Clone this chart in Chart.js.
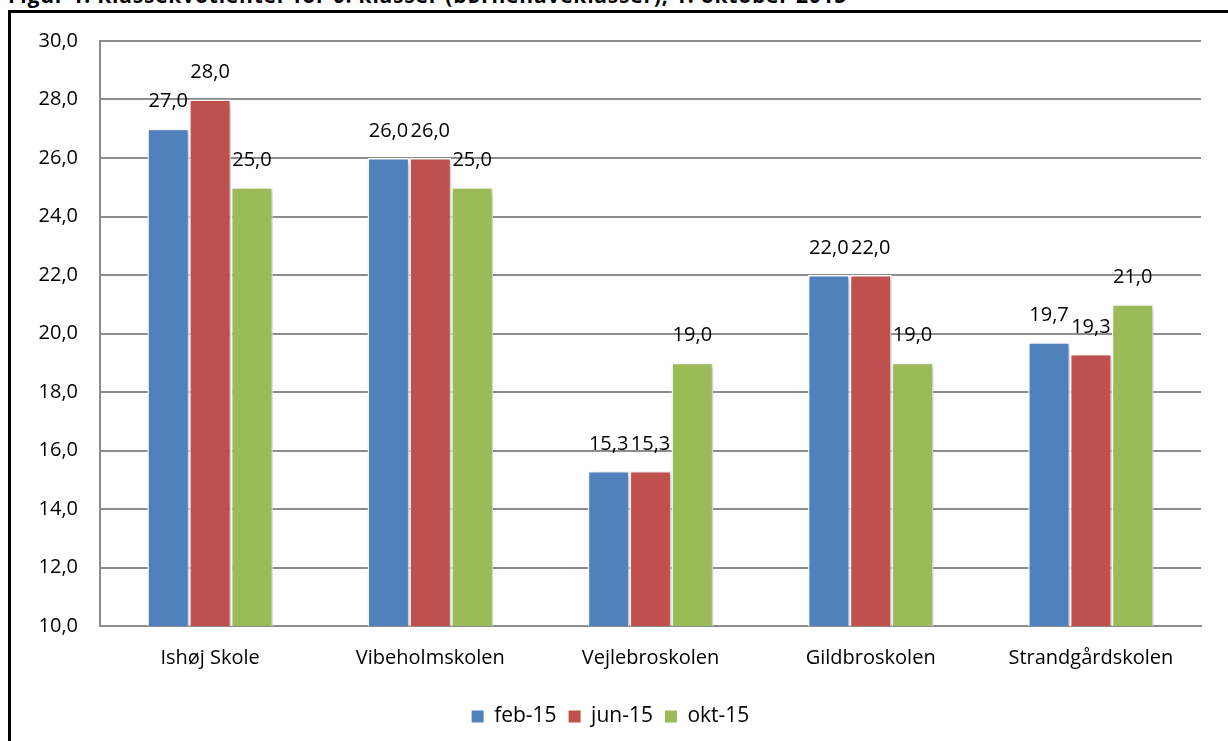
<!DOCTYPE html>
<html lang="da">
<head>
<meta charset="utf-8">
<title>Klassekvotienter</title>
<script src="https://cdn.jsdelivr.net/npm/chart.js@4/dist/chart.umd.min.js"></script>
<style>
  html, body { margin: 0; padding: 0; background: #fff; overflow: hidden; }
  body { width: 1228px; height: 741px; position: relative; }
  #title {
    position: absolute; left: 8px; top: -19px; margin: 0; letter-spacing: 0.8px;
    font: bold 21px "Open Sans", Lato, sans-serif; color: #000; white-space: nowrap;
  }
  #frame {
    position: absolute; left: 8px; top: 10px; width: 1240px; height: 760px;
    border: 3px solid #000; box-sizing: border-box;
  }
  #wrap { position: absolute; left: 0; top: 0; width: 1228px; height: 741px; }
</style>
</head>
<body>
<div id="title">Figur 1: Klassekvotienter for 0. klasser (børnehaveklasser), 1. oktober 2015</div>
<div id="frame"></div>
<div id="wrap"><canvas id="chart"></canvas></div>
<script>
// --- data ---
const schools = ['Ishøj Skole', 'Vibeholmskolen', 'Vejlebroskolen', 'Gildbroskolen', 'Strandgårdskolen'];
const seriesNames = ['feb-15', 'jun-15', 'okt-15'];
const feb15 = [27.0, 26.0, 15.3, 22.0, 19.7];
const jun15 = [28.0, 26.0, 15.3, 22.0, 19.3];
const okt15 = [25.0, 25.0, 19.0, 19.0, 21.0];
const seriesColors = ['#4F81BD', '#C0504D', '#9BBB59'];
const yMin = 10, yMax = 30, yStep = 2;

const fmt = v => v.toFixed(1).replace('.', ',');
const FONT = '"Open Sans", Lato, sans-serif';

// bars get a soft drop shadow like the Excel original
const barShadow = {
    id: 'barShadow',
    beforeDatasetsDraw(chart) {
        const ctx = chart.ctx;
        ctx.save();
        ctx.shadowColor = 'rgba(0,0,0,0.28)';
        ctx.shadowBlur = 5;
        ctx.shadowOffsetX = 2;
        ctx.shadowOffsetY = 2;
    },
    afterDatasetsDraw(chart) {
        chart.ctx.restore();
    }
};

// value labels above every bar
const valueLabels = {
    id: 'valueLabels',
    afterDatasetsDraw(chart) {
        const ctx = chart.ctx;
        ctx.save();
        ctx.shadowColor = 'transparent';
        ctx.font = '20px ' + FONT;
        ctx.fillStyle = '#000';
        ctx.textAlign = 'center';
        ctx.textBaseline = 'middle';
        chart.data.datasets.forEach((ds, i) => {
            chart.getDatasetMeta(i).data.forEach((bar, j) => {
                ctx.fillText(fmt(ds.data[j]), bar.x, bar.y - 27);
            });
        });
        ctx.restore();
    }
};

const datasets = [feb15, jun15, okt15].map((vals, i) => ({
    label: seriesNames[i],
    data: vals,
    backgroundColor: seriesColors[i],
    borderColor: '#ffffff',
    borderWidth: 1.5,
    categoryPercentage: 0.57,
    barPercentage: 1.0
}));

new Chart(document.getElementById('chart'), {
    type: 'bar',
    data: { labels: schools, datasets },
    options: {
        responsive: true,
        maintainAspectRatio: false,
        animation: false,
        layout: { padding: { left: 20, right: 27, top: 41, bottom: 4 } },
        plugins: {
            tooltip: { enabled: false },
            legend: {
                position: 'bottom',
                labels: {
                    font: { size: 21, family: FONT },
                    color: '#000',
                    boxWidth: 12,
                    boxHeight: 12,
                    padding: 12,
                    generateLabels(chart) {
                        return chart.data.datasets.map((ds, i) => ({
                            text: ds.label,
                            fillStyle: ds.backgroundColor,
                            strokeStyle: ds.backgroundColor,
                            lineWidth: 0,
                            datasetIndex: i
                        }));
                    }
                }
            }
        },
        scales: {
            x: {
                grid: { display: false, drawTicks: false },
                border: { color: '#8c8c8c', width: 2 },
                ticks: { font: { size: 20, family: FONT }, color: '#000', padding: 20 },
                afterFit(scale) { scale.height = 68; }
            },
            y: {
                min: yMin,
                max: yMax,
                grid: { color: '#8c8c8c', lineWidth: 2, drawTicks: false },
                border: { color: '#8c8c8c', width: 2 },
                ticks: {
                    stepSize: yStep,
                    font: { size: 20, family: FONT },
                    color: '#000',
                    padding: 22,
                    callback: v => fmt(v)
                },
                afterFit(scale) { scale.width = 80; }
            }
        }
    },
    plugins: [barShadow, valueLabels]
});
</script>
</body>
</html>
